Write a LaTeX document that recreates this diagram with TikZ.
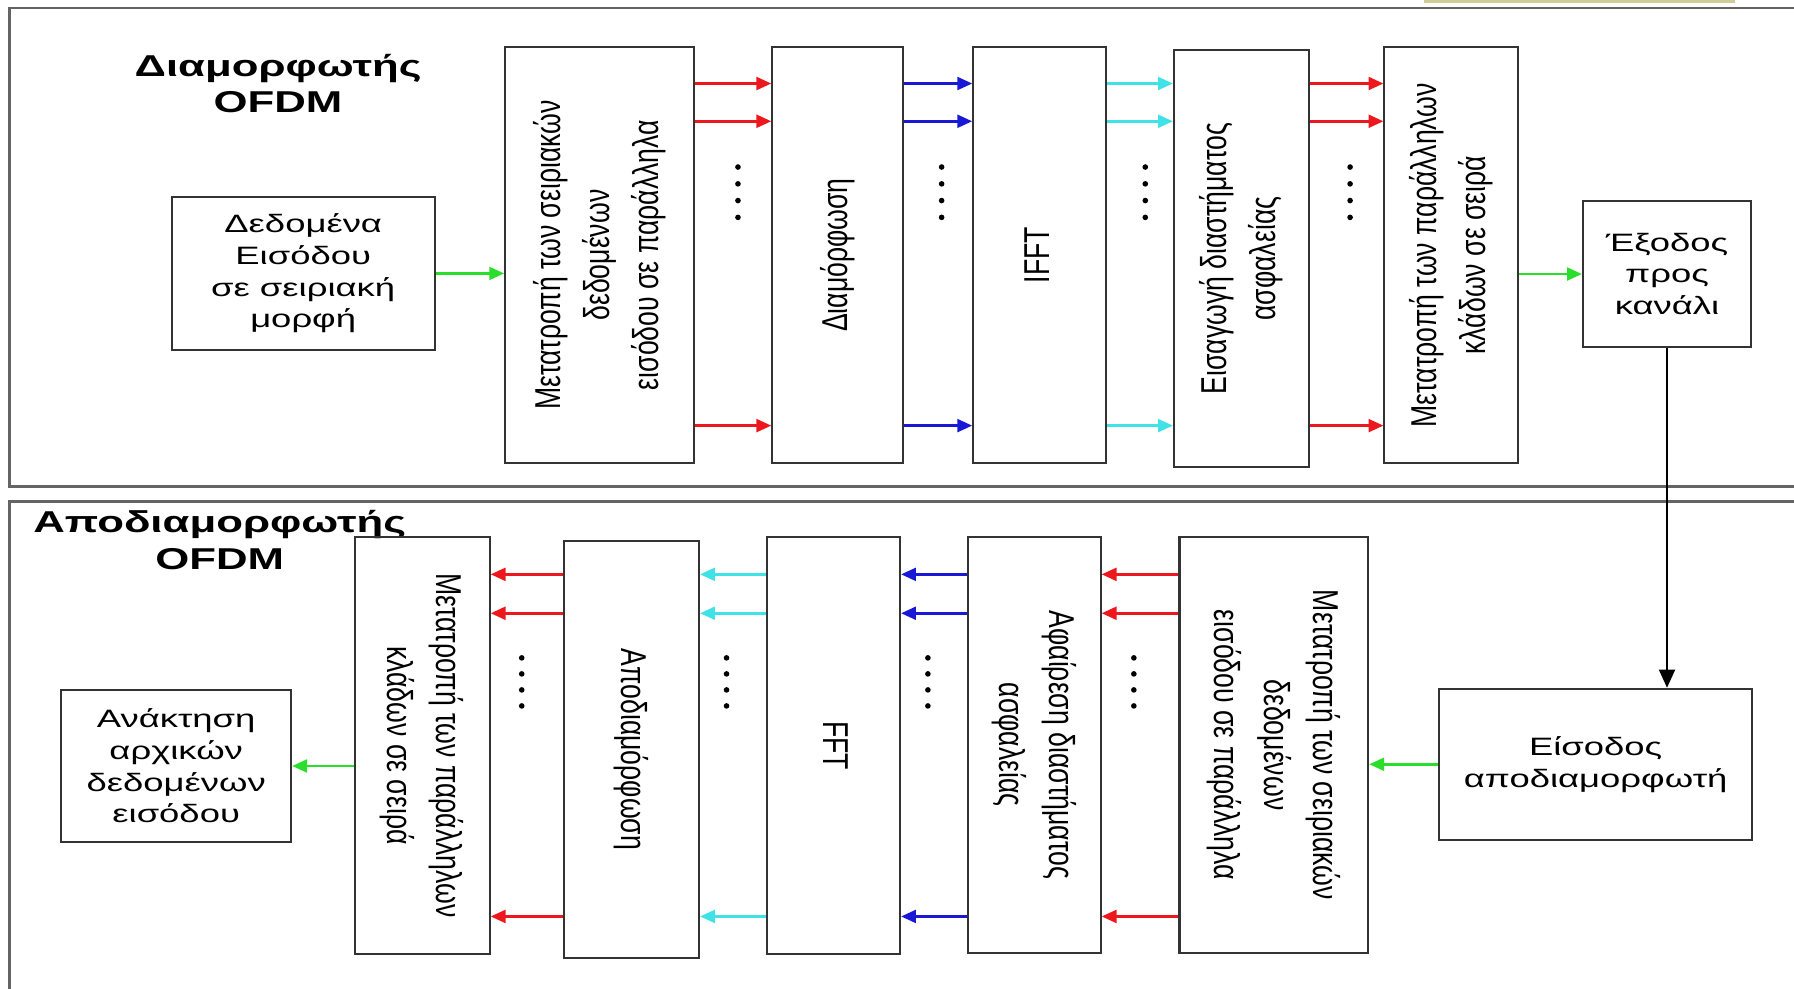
\documentclass[tikz,border=0pt]{standalone}
\usepackage{graphicx}
\usepackage{fontspec}
\setmainfont{Liberation Sans}
\newfontfamily\flatfont[FakeStretch=1.45]{Liberation Sans}
\newfontfamily\sidefont[FakeStretch=0.74]{Liberation Sans}
\usetikzlibrary{arrows.meta}
\definecolor{arrred}{RGB}{236,24,30}
\definecolor{arrblue}{RGB}{24,24,214}
\definecolor{arrcyan}{RGB}{64,226,232}
\definecolor{arrgreen}{RGB}{44,222,44}
\definecolor{framegray}{RGB}{100,100,100}
\definecolor{tabtan}{RGB}{206,204,152}

% rotated box text (up: read from bottom, down: read from top)
\newcommand{\uptxt}[1]{\rotatebox{90}{\sidefont\fontsize{17.9}{24.5}\selectfont
  \begin{tabular}{@{}c@{}}#1\end{tabular}}}
\newcommand{\downtxt}[1]{\rotatebox{-90}{\sidefont\fontsize{17.9}{24.5}\selectfont
  \begin{tabular}{@{}c@{}}#1\end{tabular}}}

\tikzset{
  blk/.style 2 args={draw=black!80, line width=1pt, inner sep=0pt, align=center,
    minimum width=#1*0.02cm, minimum height=#2*0.02cm},
  flattext/.style={font=\flatfont\fontsize{12.5}{15.8}\selectfont},
  ttl/.style={align=center, font=\flatfont\bfseries\fontsize{15}{18.2}\selectfont},
  ar/.style={-{Triangle[length=7.4pt,width=6.4pt]}, line width=1.3pt},
  frame/.style={draw=framegray, line width=1.4pt},
}

\begin{document}
\begin{tikzpicture}[x=0.02cm, y=-0.02cm]

\useasboundingbox (0,0) rectangle (1568,864);

%---------------------------------------
% Frames
%---------------------------------------
\fill[tabtan] (1245,0) rectangle (1516,2.6);
\draw[frame] (1570,7) -- (8,7) -- (8,425) -- (1570,425);
\draw[frame] (1570,438.5) -- (8,438.5) -- (8,870);

%====================================================
% TOP: modulator
%====================================================
\node[ttl] (modttl) at (243,73) {Διαμορφωτής\\OFDM};

\node[blk={230}{134}, flattext] (datain) at (265,239)
  {Δεδομένα\\Εισόδου\\σε σειριακή\\μορφή};
\node[blk={165}{364}] (sertopar) at (524,223)
  {\uptxt{Μετατροπή των σειριακών\\δεδομένων\\εισόδου σε παράλληλα}};
\node[blk={114}{364}] (mapper) at (732,223) {\uptxt{Διαμόρφωση}};
\node[blk={116}{364}] (ifft) at (908.6,223) {\uptxt{IFFT}};
\node[blk={118}{364}] (addgi) at (1085,226)
  {\uptxt{Εισαγωγή διαστήματος\\ασφαλείας}};
\node[blk={117}{364}] (partoser) at (1268.5,223)
  {\uptxt{Μετατροπή των παράλληλων\\κλάδων σε σειρά}};
\node[blk={147}{127}, flattext] (chout) at (1457,239.5)
  {Έξοδος\\προς\\κανάλι};

% parallel branches
\foreach \y in {73,106,372} {
  \draw[ar, arrred]  (sertopar.east |- 0,\y) -- (mapper.west |- 0,\y);
  \draw[ar, arrblue] (mapper.east |- 0,\y)   -- (ifft.west |- 0,\y);
  \draw[ar, arrcyan] (ifft.east |- 0,\y)     -- (addgi.west |- 0,\y);
  \draw[ar, arrred]  (addgi.east |- 0,\y)    -- (partoser.west |- 0,\y);
}
\foreach \x in {645,823,1001,1180}
  \foreach \y in {146,160.7,175.3,190}
    \fill (\x,\y) circle (1.4pt);

\draw[ar, arrgreen] (datain.east) -- (datain.east -| sertopar.west);
\draw[ar, arrgreen] (partoser.east |- chout.west) -- (chout.west);

%====================================================
% BOTTOM: demodulator
%====================================================
\node[ttl] (demttl) at (192,472) {Αποδιαμορφωτής\\OFDM};

\node[blk={274}{132}, flattext] (demin) at (1394.6,668)
  {Είσοδος\\αποδιαμορφωτή};
\node[blk={165}{364}] (sertopar2) at (1113.4,651)
  {\downtxt{Μετατροπή των σειριακών\\δεδομένων\\εισόδου σε παράλληλα}};
\node[blk={116}{364}] (remgi) at (904,651)
  {\downtxt{Αφαίρεση διαστήματος\\ασφαλείας}};
\node[blk={116}{365}] (fft) at (728.7,651.5) {\downtxt{FFT}};
\node[blk={118}{364}] (demapper) at (552,655) {\downtxt{Αποδιαμόρφωση}};
\node[blk={118}{365}] (partoser2) at (369,651.5)
  {\downtxt{Μετατροπή των παράλληλων\\κλάδων σε σειρά}};
\node[blk={201}{133}, flattext] (dataout) at (154,669.5)
  {Ανάκτηση\\αρχικών\\δεδομένων\\εισόδου};

% parallel branches
\foreach \y in {502,536,801} {
  \draw[ar, arrred]  (sertopar2.west |- 0,\y) -- (remgi.east |- 0,\y);
  \draw[ar, arrblue] (remgi.west |- 0,\y)     -- (fft.east |- 0,\y);
  \draw[ar, arrcyan] (fft.west |- 0,\y)       -- (demapper.east |- 0,\y);
  \draw[ar, arrred]  (demapper.west |- 0,\y)  -- (partoser2.east |- 0,\y);
}
\foreach \x in {456,635,811,991}
  \foreach \y in {575,589,603,617}
    \fill (\x,\y) circle (1.4pt);

\draw[ar, arrgreen] (demin.west) -- (demin.west -| sertopar2.east);
\draw[ar, arrgreen] (partoser2.west |- dataout.east) -- (dataout.east);

% channel
\draw[-{Triangle[length=9pt,width=8pt]}, line width=0.7pt]
  (chout.south) -- (chout.south |- demin.north);

\end{tikzpicture}
\end{document}
